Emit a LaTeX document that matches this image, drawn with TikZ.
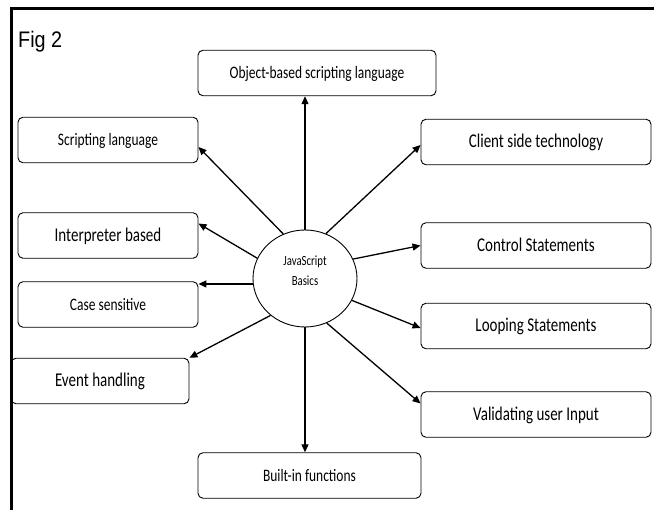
\documentclass[tikz,border=0pt]{standalone}
\usepackage{fontspec}
\setmainfont{Carlito}
\newfontfamily\boxfont[FakeStretch=0.77]{Carlito}
\newfontfamily\figfont[FakeStretch=0.88]{Liberation Sans}
\usetikzlibrary{shapes.geometric,arrows.meta,positioning}

\begin{document}
\begin{tikzpicture}[x=1pt, y=-1pt,
    box/.style={draw, rounded corners=5pt, line width=0.9pt, minimum height=45.5pt, inner sep=0pt, text height=15pt, text depth=3pt},
    smalltxt/.style={font=\boxfont\fontsize{17.5}{21}\selectfont},
    bigtxt/.style={font=\boxfont\fontsize{19.5}{23}\selectfont},
    hub/.style={ellipse, draw, line width=0.9pt, minimum width=104pt, minimum height=97pt, inner sep=0pt},
    arr/.style={-{Triangle[length=8pt,width=7pt]}, line width=1.3pt}
]
\useasboundingbox (0,0) rectangle (654,510);

% frame and caption
\draw[line width=2.5pt] (654,8.5) -- (11.5,8.5) -- (11.5,510);
\node[font=\figfont\fontsize{22.5}{27}\selectfont, anchor=base west, inner sep=0pt] (fig) at (18,48) {Fig 2};

% centre
\node[hub] (js) at (305,278.5) {};
\node[font=\boxfont\fontsize{14}{20}\selectfont, align=center] (jslab) at (305,271) {JavaScript\\Basics};

% left side and top/bottom
\node[box, smalltxt, minimum width=238pt] (obj) at (317,73) {Object-based scripting language};
\node[box, smalltxt, minimum width=180pt] (scr) at (108,140) {Scripting language};
\node[box, bigtxt, minimum width=180pt] (int) at (108,235.5) {Interpreter based};
\node[box, smalltxt, minimum width=180pt] (cas) at (108,304.5) {Case sensitive};
\node[box, bigtxt, minimum width=178pt] (evt) at (100,381) {Event handling};
\node[box, smalltxt, minimum width=223pt] (blt) at (309.5,475.5) {Built-in functions};

% right side
\foreach \n/\y/\lab in {cli/142/Client side technology, ctl/245.5/Control Statements, lop/326/Looping Statements, val/414.5/Validating user Input}
    \node[box, bigtxt, minimum width=230pt] (\n) at (536,\y) {\lab};

% arrows out of the centre
\draw[arr] (js.north) -- (js.north |- obj.south);
\draw[arr] (js.south) -- (js.south |- blt.north);
\draw[arr] (js.116) -- ([yshift=-7pt]scr.east);
\draw[arr] (js.157) -- ([yshift=12pt]int.east);
\draw[arr] (js.186) -- (js.186 -| cas.east);
\draw[arr] (js.227) -- (evt.north east);
\draw[arr] (js.65) -- ([yshift=-3pt]cli.west);
\draw[arr] (js.22) -- (ctl.west);
\draw[arr] (js.-25) -- ([yshift=-2pt]lop.west);
\draw[arr] (js.-64) -- ([yshift=11pt]val.west);
\end{tikzpicture}
\end{document}
